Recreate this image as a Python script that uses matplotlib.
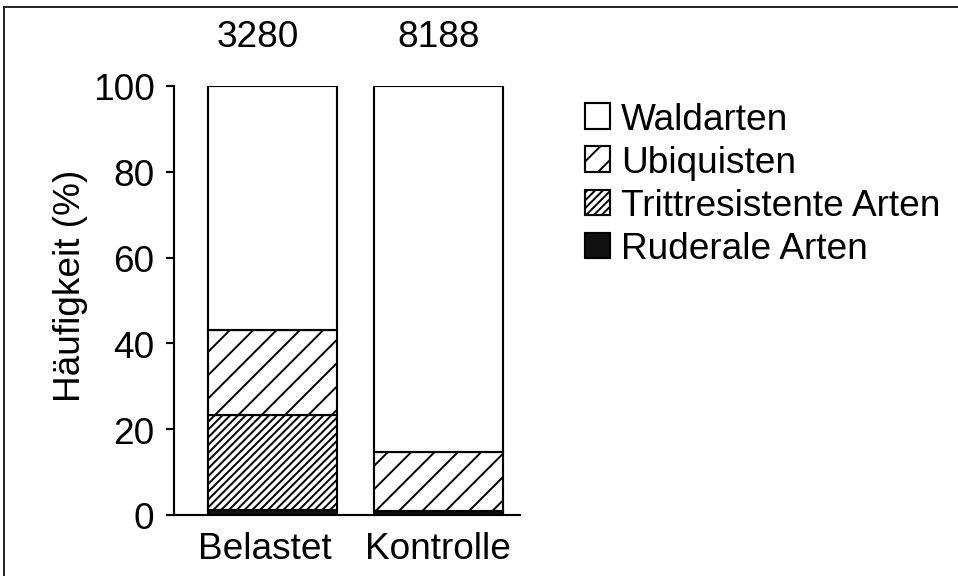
import matplotlib
matplotlib.use("Agg")
import matplotlib.pyplot as plt
import matplotlib.transforms as mtransforms
from matplotlib.patches import Patch
from matplotlib.lines import Line2D

plt.rcParams['font.family'] = ['Liberation Sans', 'DejaVu Sans']
plt.rcParams['hatch.color'] = 'black'
plt.rcParams['hatch.linewidth'] = 1.0

categories = ['Belastet', 'Kontrolle']
totals = ['3280', '8188']
ruderale = [1.2, 1.0]
tritt = [22.1, 0.0]
ubiq = [19.8, 13.6]
wald = [56.9, 85.4]

series_names = ['Ruderale Arten', 'Trittresistente Arten', 'Ubiquisten', 'Waldarten']
series_vals = [ruderale, tritt, ubiq, wald]
series_face = ['#111111', 'white', 'white', 'white']
series_hatch = [None, '//////', '//', None]

FS = 19
DPI = 140
fig = plt.figure(figsize=(958 / DPI, 577 / DPI), dpi=DPI)
ax = fig.add_axes([174 / 958, 1 - 516 / 577, (520 - 174) / 958, (516 - 87) / 577])

x = list(range(len(categories)))
bottom = [0.0] * len(categories)
handles = []
for name, vals, fc, h in zip(series_names, series_vals, series_face, series_hatch):
    ax.bar(x, vals, bottom=bottom, width=0.777, facecolor=fc, edgecolor='black',
           hatch=h, linewidth=1.1, zorder=2)
    handles.append(Patch(facecolor=fc, edgecolor='black', hatch=h, linewidth=1.1, label=name))
    bottom = [b + v for b, v in zip(bottom, vals)]

# small horizontal offsets (pixels) as in the original figure
total_shift_px = [-15, 0]
label_shift_px = [-8, 0]
for xi, t, dx in zip(x, totals, total_shift_px):
    tr = ax.transData + mtransforms.ScaledTranslation(dx / DPI, 0, fig.dpi_scale_trans)
    ax.text(xi, 109.4, t, ha='center', va='baseline', fontsize=FS, clip_on=False, transform=tr)

ax.set_xlim(-0.596, 1.494)
ax.set_ylim(0, 100)
ax.set_yticks([0, 20, 40, 60, 80, 100])
ax.set_xticks(x)
ax.set_xticklabels(categories)
ax.tick_params(axis='x', length=0, pad=8, labelsize=FS)
ax.tick_params(axis='y', length=4, width=1.1, pad=6, labelsize=FS, direction='out')
for lbl, dx in zip(ax.get_xticklabels(), label_shift_px):
    lbl.set_transform(lbl.get_transform() + mtransforms.ScaledTranslation(dx / DPI, 0, fig.dpi_scale_trans))
for s in ['top', 'right']:
    ax.spines[s].set_visible(False)
for s in ['left', 'bottom']:
    ax.spines[s].set_linewidth(1.1)
ax.set_ylabel('Häufigkeit (%)', fontsize=FS)
ax.yaxis.set_label_coords(-0.25, 0.536)

fig.legend(handles=handles[::-1], loc='upper left',
           bbox_to_anchor=(585 / 958, 1 - 103 / 577), bbox_transform=fig.transFigure,
           frameon=False, fontsize=FS, handlelength=0.68, handleheight=0.68,
           handletextpad=0.3, labelspacing=0.22, borderpad=0, borderaxespad=0)

# outer frame (top and left visible)
fig.add_artist(Line2D([4 / 958, 4 / 958], [0, 1 - 8 / 577], transform=fig.transFigure,
                      color='#222222', linewidth=1.0))
fig.add_artist(Line2D([4 / 958, 1], [1 - 8 / 577, 1 - 8 / 577], transform=fig.transFigure,
                      color='#222222', linewidth=1.0))

fig.savefig('out.png', dpi=DPI)
